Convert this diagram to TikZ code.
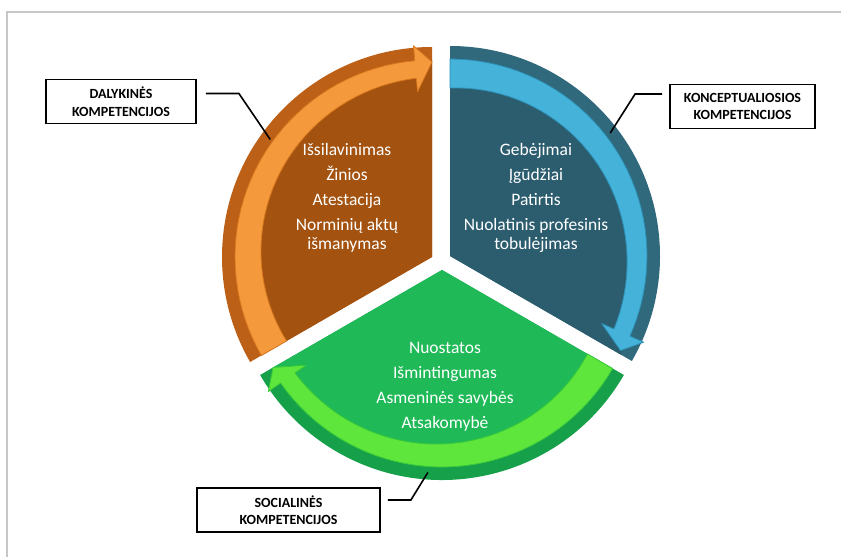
\documentclass[tikz,border=0pt]{standalone}
\usepackage{fontspec}
\setmainfont{Carlito}
\usetikzlibrary{calc}

\definecolor{orfill}{HTML}{A3520F}
\definecolor{orrim}{HTML}{BC5F17}
\definecolor{orarrow}{HTML}{F49A3C}
\definecolor{oredge}{HTML}{D9781F}
\definecolor{blfill}{HTML}{2C5D6F}
\definecolor{blrim}{HTML}{30687C}
\definecolor{blarrow}{HTML}{45B2D9}
\definecolor{bledge}{HTML}{2E8FB4}
\definecolor{grfill}{HTML}{1FBA57}
\definecolor{grrim}{HTML}{17A04A}
\definecolor{grarrow}{HTML}{5EE63C}
\definecolor{gredge}{HTML}{39C83A}

% clockwise band with head: fill, edge, start angle, end angle
\newcommand{\ringarrow}[4]{%
  \filldraw[fill=#1, draw=#2, line width=0.8pt, line join=round]
    plot[domain=#3:#4+5, samples=40] (\x:197) -- (#4+5:212) -- (#4:195)
    -- (#4+5:166) -- plot[domain=#4+5:#3, samples=40] (\x:{168+12*(#3-\x)/(#3-#4)}) -- cycle;
}

\begin{document}
\begin{tikzpicture}[x=1pt, y=1pt,
  compbox/.style={draw=black, line width=1.8pt, fill=white, align=center,
    font=\bfseries\fontsize{14}{17.5}\selectfont, minimum height=44, inner sep=2pt},
  leader/.style={black, line width=1.6pt},
  pietext/.style={text=white, align=center, font=\fontsize{17.5}{19.5}\selectfont}]
  \def\R{210}

  \useasboundingbox (0,0) rectangle (841,557);
  \draw[black!22, line width=1.5pt] (7,0) -- (7,545) -- (841,545);  % frame

  % dalykines
  \begin{scope}[shift={(432,300)}]
    \fill[orrim] (0,0) -- (90:\R) arc[start angle=90, end angle=210, radius=\R] -- cycle;
    \fill[orfill] (0,0) -- (90:{\R-13}) arc[start angle=90, end angle=210, radius={\R-13}] -- cycle;
    \ringarrow{orarrow}{oredge}{210}{90}
    \coordinate (dalpin) at (144:200);
    \node[pietext] (ortxt) at (-85,59)
      {Išsilavinimas\\[5.5pt] Žinios\\[5.5pt] Atestacija\\[5.5pt] Norminių aktų\\ išmanymas};
  \end{scope}

  % konceptualiosios
  \begin{scope}[shift={(450,301)}]
    \fill[blrim] (0,0) -- (90:\R) arc[start angle=90, end angle=-30, radius=\R] -- cycle;
    \fill[blfill] (0,0) -- (90:{\R-13}) arc[start angle=90, end angle=-30, radius={\R-13}] -- cycle;
    \ringarrow{blarrow}{bledge}{90}{-29}
    \coordinate (konpin) at (37.5:202);
    \node[pietext] (bltxt) at (86,58)
      {Gebėjimai\\[5.5pt] Įgūdžiai\\[5.5pt] Patirtis\\[5.5pt] Nuolatinis profesinis\\ tobulėjimas};
  \end{scope}

  % socialines
  \begin{scope}[shift={(442,287)}]
    \fill[grrim] (0,0) -- (-30:\R) arc[start angle=-30, end angle=-150, radius=\R] -- cycle;
    \fill[grfill] (0,0) -- (-30:{\R-13}) arc[start angle=-30, end angle=-150, radius={\R-13}] -- cycle;
    \ringarrow{grarrow}{gredge}{-30}{-150}
    \coordinate (socpin) at (266:203);
    \node[pietext] (grtxt) at (3,-117)
      {Nuostatos\\[5.5pt] Išmintingumas\\[5.5pt] Asmeninės savybės\\[5.5pt] Atsakomybė};
  \end{scope}

  \node[compbox, minimum width=150] (dal) at (121,455.5) {DALYKINĖS\\ KOMPETENCIJOS};
  \node[compbox, minimum width=145] (kon) at (742.5,450.5) {KONCEPTUALIOSIOS\\ KOMPETENCIJOS};
  \node[compbox, minimum width=183] (soc) at (288.5,47) {SOCIALINĖS\\ KOMPETENCIJOS};

  \draw[leader, shorten <=9pt] ([yshift=8]dal.east) -- ++(42,0) -- (dalpin);
  \draw[leader, shorten <=7pt] ([yshift=12.5]kon.west) -- ++(-34,0) -- (konpin);
  \draw[leader, shorten <=7pt] ([yshift=10]soc.east) -- ++(30,0) -- (socpin);
\end{tikzpicture}
\end{document}
